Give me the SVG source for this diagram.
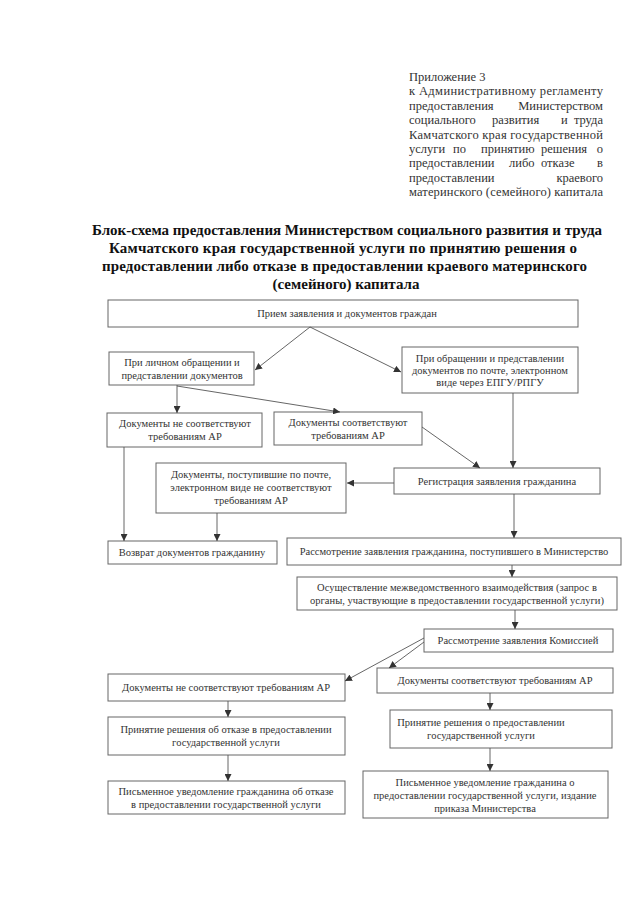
<svg xmlns="http://www.w3.org/2000/svg" width="640" height="905" viewBox="0 0 640 905">
<style>
.hdr{font-family:"Liberation Serif","Times New Roman",serif;font-size:12.5px;fill:#333}
.hdr .e{text-anchor:end}
.ttl{font-family:"Liberation Serif","Times New Roman",serif;font-size:15px;font-weight:bold;fill:#111;text-anchor:middle}
.box rect{fill:#fff;stroke:#666;stroke-width:1}
.box text{font-family:"Liberation Serif","Times New Roman",serif;font-size:10.5px;fill:#333;text-anchor:middle}
.con line{stroke:#555;stroke-width:0.9;fill:none}
</style>
<defs>
<marker id="ah" viewBox="0 0 10 10" refX="10" refY="5" markerWidth="7" markerHeight="7" markerUnits="userSpaceOnUse" orient="auto"><path d="M0,0 L10,5 L0,10 z" fill="#333"/></marker>
</defs>
<rect width="640" height="905" fill="#fff"/>
<g id="header" class="hdr">
<text x="409" y="81">Приложение 3</text>
<text x="409" y="95.4" textLength="194">к Административному регламенту</text>
<text y="109.8"><tspan x="409">предоставления</tspan><tspan class="e" x="603">Министерством</tspan></text>
<text y="124.2"><tspan x="409">социального</tspan><tspan x="492">развития</tspan><tspan x="561">и</tspan><tspan class="e" x="603">труда</tspan></text>
<text x="409" y="138.6" textLength="194">Камчатского края государственной</text>
<text y="153"><tspan x="409">услуги</tspan><tspan x="453">по</tspan><tspan x="481">принятию</tspan><tspan x="541">решения</tspan><tspan class="e" x="603">о</tspan></text>
<text y="167.4"><tspan x="409">предоставлении</tspan><tspan x="509">либо</tspan><tspan x="541">отказе</tspan><tspan class="e" x="603">в</tspan></text>
<text y="181.8"><tspan x="409">предоставлении</tspan><tspan class="e" x="603">краевого</tspan></text>
<text x="409" y="196.2" textLength="194">материнского (семейного) капитала</text>
</g>
<g id="title">
<text class="ttl" x="347" y="235" textLength="510">Блок-схема предоставления Министерством социального развития и труда</text>
<text class="ttl" x="343" y="253" textLength="468">Камчатского края государственной услуги по принятию решения о</text>
<text class="ttl" x="344.5" y="271" textLength="485">предоставлении либо отказе в предоставлении краевого материнского</text>
<text class="ttl" x="346" y="289">(семейного) капитала</text>
</g>
<g id="n1" class="box"><rect x="108" y="300" width="470" height="27"/><text x="347" y="317">Прием заявления и документов граждан</text></g>
<g id="n2" class="box"><rect x="109" y="352" width="145" height="33"/><text x="182" y="366">При личном обращении и</text><text x="182" y="379">представлении документов</text></g>
<g id="n3" class="box"><rect x="402" y="347" width="176" height="46"/><text x="490" y="362">При обращении и представлении</text><text x="490" y="374">документов по почте, электронном</text><text x="490" y="386">виде через ЕПГУ/РПГУ</text></g>
<g id="n4" class="box"><rect x="107" y="413" width="155" height="34"/><text x="185" y="427">Документы не соответствуют</text><text x="185" y="440">требованиям АР</text></g>
<g id="n5" class="box"><rect x="274" y="412" width="148" height="33"/><text x="348" y="426">Документы соответствуют</text><text x="348" y="439">требованиям АР</text></g>
<g id="n6" class="box"><rect x="394" y="468" width="206" height="26"/><text x="497" y="485">Регистрация заявления гражданина</text></g>
<g id="n7" class="box"><rect x="156" y="463" width="190" height="50"/><text x="251" y="478">Документы, поступившие по почте,</text><text x="251" y="491">электронном виде не соответствуют</text><text x="251" y="504">требованиям АР</text></g>
<g id="n8" class="box"><rect x="108" y="541" width="169" height="23"/><text x="192" y="556">Возврат документов гражданину</text></g>
<g id="n9" class="box"><rect x="287" y="538" width="334" height="27"/><text x="454" y="555">Рассмотрение заявления гражданина, поступившего в Министерство</text></g>
<g id="n10" class="box"><rect x="297" y="577" width="320" height="33"/><text x="457" y="591">Осуществление межведомственного взаимодействия (запрос в</text><text x="457" y="604">органы, участвующие в предоставлении государственной услуги)</text></g>
<g id="n11" class="box"><rect x="424" y="629" width="189" height="23"/><text x="518" y="644">Рассмотрение заявления Комиссией</text></g>
<g id="n12" class="box"><rect x="108" y="674" width="237" height="27"/><text x="226" y="691">Документы не соответствуют требованиям АР</text></g>
<g id="n13" class="box"><rect x="377" y="668" width="236" height="25"/><text x="495" y="684">Документы соответствуют требованиям АР</text></g>
<g id="n14" class="box"><rect x="108" y="717" width="237" height="38"/><text x="226" y="733">Принятие решения об отказе в предоставлении</text><text x="226" y="746">государственной услуги</text></g>
<g id="n15" class="box"><rect x="390" y="710" width="222" height="38"/><text x="481" y="726">Принятие решения о предоставлении</text><text x="481" y="739">государственной услуги</text></g>
<g id="n16" class="box"><rect x="108" y="781" width="237" height="33"/><text x="226" y="795">Письменное уведомление гражданина об отказе</text><text x="226" y="808">в предоставлении государственной услуги</text></g>
<g id="n17" class="box"><rect x="363" y="771" width="245" height="47"/><text x="485" y="786">Письменное уведомление гражданина о</text><text x="485" y="799">предоставлении государственной услуги, издание</text><text x="485" y="812">приказа Министерства</text></g>
<g id="connectors" class="con">
<line x1="310" y1="327" x2="255" y2="370" marker-end="url(#ah)"/>
<line x1="310" y1="327" x2="401" y2="372" marker-end="url(#ah)"/>
<line x1="177" y1="385" x2="177" y2="413" marker-end="url(#ah)"/>
<line x1="177" y1="386" x2="340" y2="412" marker-end="url(#ah)"/>
<line x1="513" y1="393" x2="513" y2="468" marker-end="url(#ah)"/>
<line x1="422" y1="427" x2="480" y2="468" marker-end="url(#ah)"/>
<line x1="394" y1="483" x2="347" y2="483" marker-end="url(#ah)"/>
<line x1="514" y1="494" x2="514" y2="538" marker-end="url(#ah)"/>
<line x1="124" y1="447" x2="124" y2="541" marker-end="url(#ah)"/>
<line x1="217" y1="513" x2="217" y2="541" marker-end="url(#ah)"/>
<line x1="512" y1="565" x2="512" y2="577" marker-end="url(#ah)"/>
<line x1="515" y1="610" x2="515" y2="629" marker-end="url(#ah)"/>
<line x1="424" y1="638" x2="345" y2="681" marker-end="url(#ah)"/>
<line x1="424" y1="642" x2="389" y2="668" marker-end="url(#ah)"/>
<line x1="228" y1="701" x2="228" y2="717" marker-end="url(#ah)"/>
<line x1="490" y1="693" x2="490" y2="710" marker-end="url(#ah)"/>
<line x1="228" y1="755" x2="228" y2="781" marker-end="url(#ah)"/>
<line x1="490" y1="748" x2="490" y2="771" marker-end="url(#ah)"/>
</g>
</svg>
